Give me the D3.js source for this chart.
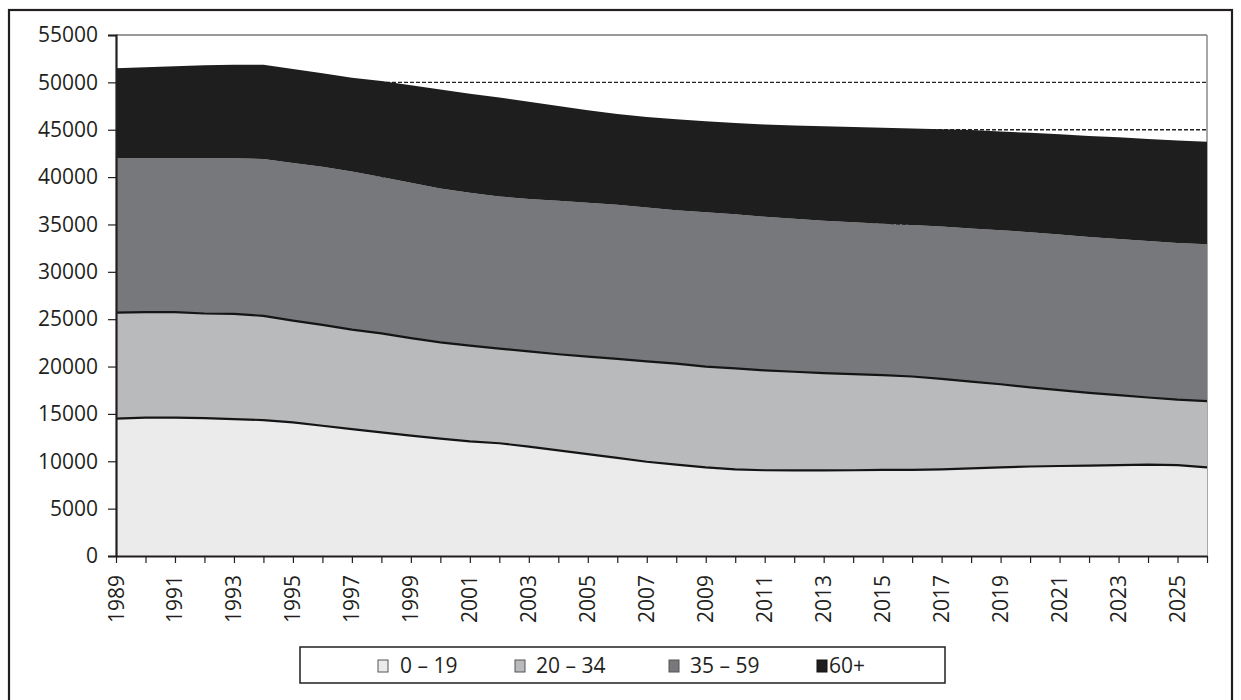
<!DOCTYPE html>
<html>
<head>
<meta charset="utf-8">
<script src="https://cdn.jsdelivr.net/npm/d3@7"></script>
<style>
  html, body { margin: 0; padding: 0; background: #ffffff; }
  svg { display: block; font-family: "Open Sans", "Noto Sans", sans-serif; }
</style>
</head>
<body>
<svg id="chart" width="1241" height="700"></svg>
<script>
// ---- data ----
const years = d3.range(1989, 2027);
const seriesNames = ["0 – 19", "20 – 34", "35 – 59", "60+"];
const age0_19 = [14500,14600,14600,14550,14450,14350,14100,13750,13400,13050,12700,12400,12100,11900,11550,11150,10750,10350,9950,9650,9350,9150,9050,9030,9030,9050,9100,9100,9150,9250,9350,9450,9500,9550,9600,9650,9600,9350];
const age20_34 = [11200,11150,11150,11050,11100,11000,10750,10650,10500,10450,10300,10150,10100,10000,10050,10150,10300,10450,10600,10650,10650,10650,10550,10420,10270,10150,10000,9850,9550,9150,8780,8350,8020,7680,7380,7080,6900,7000];
const age35_59 = [16300,16250,16250,16400,16450,16550,16650,16700,16700,16500,16400,16250,16150,16050,16100,16200,16250,16270,16250,16200,16300,16270,16220,16150,16100,16020,15970,15980,16090,16170,16270,16380,16410,16450,16490,16520,16540,16550];
const age60plus = [9500,9600,9700,9800,9850,9950,9900,9850,9900,10150,10300,10450,10450,10450,10250,10000,9760,9600,9550,9600,9600,9630,9740,9850,9980,10080,10130,10200,10270,10390,10410,10490,10600,10670,10730,10780,10810,10840];
const yTicks = d3.range(0, 55001, 5000);
const fills = ["#ebebeb", "#b9babc", "#77787c", "#1e1e1e"];

(function () {
  const rows = years.map((yr, i) => ({
    year: yr, s0: age0_19[i], s1: age20_34[i], s2: age35_59[i], s3: age60plus[i]
  }));
  const keys = ["s0", "s1", "s2", "s3"];

  const svg = d3.select("#chart");
  const pLeft = 116, pRight = 1207, pTop = 35, pBottom = 556;
  const fontSize = 21;

  const x = d3.scalePoint().domain(years).range([pLeft, pRight]);
  const y = d3.scaleLinear().domain([0, 55000]).range([pBottom, pTop]);

  // outer frame
  svg.append("rect").attr("x", 9).attr("y", 10).attr("width", 1223).attr("height", 700)
    .attr("fill", "none").attr("stroke", "#231f20").attr("stroke-width", 2.2);

  // gridlines (dashed, behind areas)
  svg.append("g").selectAll("line").data(yTicks.filter(d => d > 0 && d < 55000)).join("line")
    .attr("x1", pLeft).attr("x2", pRight)
    .attr("y1", d => y(d)).attr("y2", d => y(d))
    .attr("stroke", "#222").attr("stroke-width", 1.3).attr("stroke-dasharray", "4,2");

  // plot top & right border
  svg.append("line").attr("x1", pLeft).attr("x2", pRight).attr("y1", y(55000)).attr("y2", y(55000))
    .attr("stroke", "#9a9a9a").attr("stroke-width", 2);
  svg.append("line").attr("x1", pRight).attr("x2", pRight).attr("y1", y(55000)).attr("y2", pBottom)
    .attr("stroke", "#8a8a8a").attr("stroke-width", 1.5);

  // stacked areas
  const stacked = d3.stack().keys(keys)(rows);
  const area = d3.area().x(d => x(d.data.year)).y0(d => y(d[0])).y1(d => y(d[1]));
  svg.append("g").selectAll("path").data(stacked).join("path")
    .attr("d", area).attr("fill", (d, i) => fills[i]);

  // boundary lines
  const topLine = d3.line().x(d => x(d.data.year)).y(d => y(d[1]));
  svg.append("g").selectAll("path").data(stacked.slice(0, 2)).join("path")
    .attr("d", topLine).attr("fill", "none").attr("stroke", "#151515").attr("stroke-width", 2.2);

  // y axis
  const yAxis = d3.axisLeft(y).tickValues(yTicks).tickSize(8).tickPadding(10).tickFormat(d3.format("d"));
  const gy = svg.append("g").attr("transform", `translate(${pLeft},0)`).call(yAxis);
  gy.select(".domain").attr("stroke", "#231f20").attr("stroke-width", 2.2);
  gy.selectAll(".tick line").attr("stroke", "#231f20").attr("stroke-width", 1.2);
  gy.selectAll("text").attr("font-size", fontSize).attr("fill", "#231f20")
    .attr("font-family", "'Open Sans', sans-serif");

  // x axis
  const xAxis = d3.axisBottom(x).tickValues(years).tickSize(7).tickSizeOuter(0)
    .tickFormat((d, i) => (i % 2 === 0 ? String(d) : ""));
  const gx = svg.append("g").attr("transform", `translate(0,${pBottom})`).call(xAxis);
  gx.select(".domain").attr("stroke", "#231f20").attr("stroke-width", 2.2);
  gx.selectAll(".tick line").attr("stroke", "#231f20").attr("stroke-width", 1.2);
  gx.selectAll("text")
    .attr("font-size", fontSize).attr("fill", "#231f20")
    .attr("font-family", "'Open Sans', sans-serif")
    .attr("text-anchor", "end")
    .attr("dy", null)
    .attr("y", 0)
    .attr("transform", "translate(7,19) rotate(-90)");

  // legend
  const lg = svg.append("g");
  lg.append("rect").attr("x", 300).attr("y", 647).attr("width", 645).attr("height", 36)
    .attr("fill", "#fff").attr("stroke", "#231f20").attr("stroke-width", 1.5);
  const swatchX = [378, 515, 669, 817];
  const textX = [400, 536, 690, 829];
  seriesNames.forEach((name, i) => {
    lg.append("rect").attr("x", swatchX[i]).attr("y", 660).attr("width", 10).attr("height", 12)
      .attr("fill", fills[i]).attr("stroke", i === 3 ? "#111" : "#555").attr("stroke-width", 1);
    lg.append("text").attr("x", textX[i]).attr("y", 673).text(name)
      .attr("font-size", fontSize).attr("fill", "#231f20");
  });
})();
</script>
</body>
</html>
